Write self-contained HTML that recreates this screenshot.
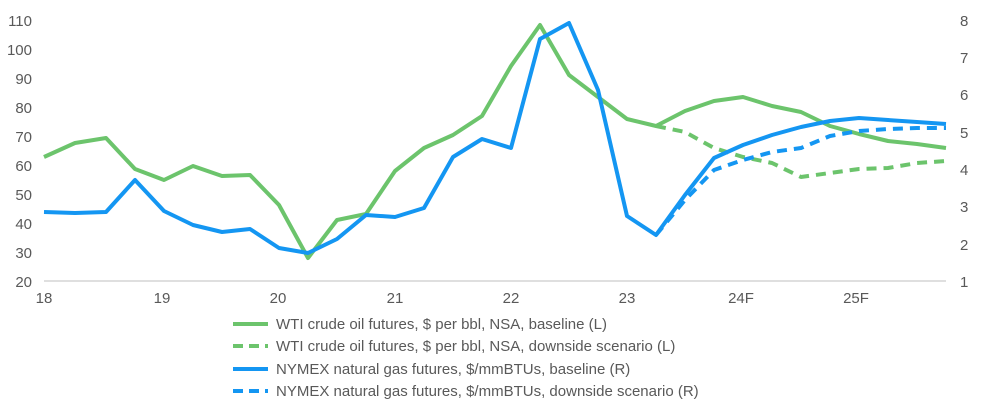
<!DOCTYPE html>
<html><head><style>
body{margin:0;background:#fff;}
svg text{font-family:"Liberation Sans",Arial,sans-serif;fill:#595959;}
</style></head><body>
<svg width="1000" height="412" viewBox="0 0 1000 412" xmlns="http://www.w3.org/2000/svg">
<line x1="44" y1="281" x2="946" y2="281" stroke="#bfbfbf" stroke-width="1"/>
<g font-size="15" text-anchor="end">
<text x="32" y="287">20</text><text x="32" y="258">30</text><text x="32" y="229">40</text><text x="32" y="200">50</text><text x="32" y="171">60</text><text x="32" y="142">70</text><text x="32" y="113">80</text><text x="32" y="84">90</text><text x="32" y="55">100</text><text x="32" y="26">110</text>
</g>
<g font-size="15" text-anchor="start">
<text x="960" y="287">1</text><text x="960" y="250">2</text><text x="960" y="212">3</text><text x="960" y="175">4</text><text x="960" y="138">5</text><text x="960" y="100">6</text><text x="960" y="63">7</text><text x="960" y="26">8</text>
</g>
<g font-size="15" text-anchor="middle">
<text x="44" y="303">18</text><text x="162" y="303">19</text><text x="278" y="303">20</text><text x="395" y="303">21</text><text x="511" y="303">22</text><text x="627" y="303">23</text><text x="741" y="303">24F</text><text x="856" y="303">25F</text>
</g>
<g fill="none" stroke-width="4" stroke-linejoin="round">
<polyline stroke="#6cc46c" points="44,157 75,143 106,138 135,169 164,180 193,166 222,176 250,175 279,205 308,258 337,220 366,214 395,171 424,148 453,135 482,116 511,66 540,25 569,75 598,97 627,119 656,126 685,111 714,101 743,97 772,106 801,112 830,126 859,134 888,141 917,144 946,148"/>
<polyline stroke="#6cc46c" stroke-dasharray="10,7" points="656,126 685,132 714,148 743,157 772,163 801,177 830,173 859,169 888,168 917,163 946,161"/>
<polyline stroke="#1496f2" points="44,212 75,213 106,212 135,180 164,211 193,225 222,232 250,229 279,248 308,253 337,239 366,215 395,217 424,208 453,157 482,139 511,148 540,39 569,23 598,90 627,216 656,235 685,195 714,158 743,145 772,135 801,127 830,121 859,118 888,120 917,122 946,124"/>
<polyline stroke="#1496f2" stroke-dasharray="10,7" points="656,235 685,200 714,170 743,160 772,152 801,148 830,136 859,131 888,129 917,128 946,128"/>
<line x1="233" y1="324" x2="268" y2="324" stroke="#6cc46c"/>
<line x1="233" y1="346" x2="268" y2="346" stroke="#6cc46c" stroke-dasharray="10,6"/>
<line x1="233" y1="369" x2="268" y2="369" stroke="#1496f2"/>
<line x1="233" y1="391" x2="268" y2="391" stroke="#1496f2" stroke-dasharray="10,6"/>
</g>
<g font-size="15">
<text x="276" y="329">WTI crude oil futures, $ per bbl, NSA, baseline (L)</text>
<text x="276" y="351">WTI crude oil futures, $ per bbl, NSA, downside scenario (L)</text>
<text x="276" y="374">NYMEX natural gas futures, $/mmBTUs, baseline (R)</text>
<text x="276" y="396">NYMEX natural gas futures, $/mmBTUs, downside scenario (R)</text>
</g>
</svg>
</body></html>
